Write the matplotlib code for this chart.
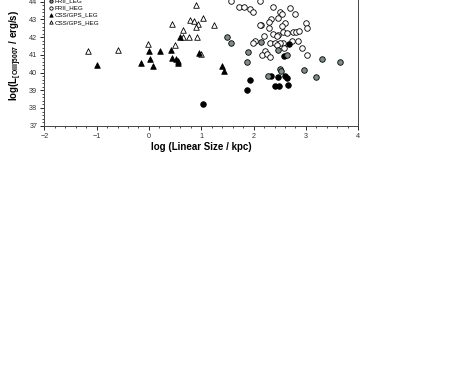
import numpy as np
import matplotlib
matplotlib.use("Agg")
import matplotlib.pyplot as plt
from matplotlib.ticker import MultipleLocator

plt.rcParams["font.family"] = ["Liberation Sans", "DejaVu Sans"]

# FRI (black filled circles)
fri_x = [2.68, 2.59, 1.93, 1.87, 2.33, 2.46, 2.60, 2.64, 2.41, 2.49, 2.66, 1.03]
fri_y = [41.62, 40.92, 39.58, 39.02, 39.81, 39.73, 39.81, 39.71, 39.24, 39.22, 39.30, 38.23]

# FRII LEG (grey filled circles)
frii_leg_x = [1.50, 1.56, 1.90, 1.87, 2.15, 2.47, 2.64, 2.28, 2.50, 2.52, 2.97, 3.19, 3.30, 3.66]
frii_leg_y = [42.03, 41.66, 41.16, 40.60, 41.75, 41.26, 40.99, 39.81, 40.20, 40.09, 40.13, 39.75, 40.75, 40.58]

# FRII HEG (open circles)
frii_heg_x = [2.13, 1.56, 1.73, 1.82, 1.93, 1.98, 2.38, 2.70, 2.50, 2.54, 2.79,
              2.33, 2.30, 2.47, 2.61, 2.55, 3.00, 3.03, 2.14, 2.29, 2.57, 2.64,
              2.75, 2.82, 2.86, 2.38, 2.47, 2.19, 2.45, 2.03, 1.98, 2.31, 2.40,
              2.57, 2.74, 2.85, 2.92, 2.22, 2.17, 2.25, 2.31, 3.03, 2.50, 2.44,
              2.59, 2.12]
frii_heg_y = [44.05, 44.05, 43.69, 43.72, 43.59, 43.42, 43.72, 43.67, 43.41, 43.31, 43.31,
              43.01, 42.86, 43.07, 42.82, 42.63, 42.82, 42.54, 42.69, 42.54, 42.31, 42.25,
              42.28, 42.28, 42.35, 42.16, 42.14, 42.08, 42.08, 41.79, 41.66, 41.69, 41.66,
              41.69, 41.79, 41.80, 41.39, 41.22, 41.00, 41.03, 40.86, 40.98, 41.66, 41.58,
              41.37, 42.69]

# CSS/GPS LEG (filled triangles)
css_leg_x = [-1.00, -0.15, 0.00, 0.02, 0.08, 0.21, 0.42, 0.45, 0.52, 0.55, 0.56,
             0.96, 0.60, 1.40, 1.43]
css_leg_y = [40.41, 40.54, 41.20, 40.74, 40.37, 41.24, 41.29, 40.84, 40.75, 40.64, 40.56,
             41.09, 42.00, 40.35, 40.07]

# CSS/GPS HEG (open triangles)
css_heg_x = [0.89, 1.03, 0.45, 0.78, 0.87, 0.93, 0.90, 1.24, 0.65, 0.65, 0.77,
             0.91, -0.01, 0.49, 0.99, -1.16, -0.60]
css_heg_y = [43.80, 43.10, 42.75, 42.97, 42.93, 42.73, 42.60, 42.70, 42.40, 42.00, 42.00,
             42.00, 41.64, 41.58, 41.05, 41.20, 41.30]

fig = plt.figure(figsize=(4.63, 3.82), dpi=100)
ax = fig.add_axes([0.0957, 0.671, 0.678, 0.3707])

ms = 16
ax.scatter(fri_x, fri_y, s=ms, marker="o", facecolor="black", edgecolor="black",
           linewidth=0.6, label="FRI", zorder=3)
ax.scatter(frii_leg_x, frii_leg_y, s=ms, marker="o", facecolor="#7d8d89", edgecolor="black",
           linewidth=0.6, label="FRII_LEG", zorder=3)
ax.scatter(frii_heg_x, frii_heg_y, s=ms, marker="o", facecolor="white", edgecolor="black",
           linewidth=0.6, label="FRII_HEG", zorder=2)
ax.scatter(css_leg_x, css_leg_y, s=ms, marker="^", facecolor="black", edgecolor="black",
           linewidth=0.6, label="CSS/GPS_LEG", zorder=3)
ax.scatter(css_heg_x, css_heg_y, s=ms, marker="^", facecolor="white", edgecolor="black",
           linewidth=0.6, label="CSS/GPS_HEG", zorder=2)

ax.set_xlim(-2, 4)
ax.set_ylim(37, 45)
ax.xaxis.set_major_locator(MultipleLocator(1))
ax.xaxis.set_minor_locator(MultipleLocator(0.2))
ax.yaxis.set_major_locator(MultipleLocator(1))
ax.yaxis.set_minor_locator(MultipleLocator(0.2))
ax.tick_params(which="major", length=3, width=0.6, labelsize=5.2, pad=2,
               labelcolor="#333333", direction="out")
ax.tick_params(which="minor", length=1.5, width=0.5, direction="out")
ax.tick_params(top=False, right=False)
for s in ax.spines.values():
    s.set_linewidth(0.7)
    s.set_color("#444444")

ax.set_xlabel("log (Linear Size / kpc)", fontsize=7, fontweight="bold", labelpad=2)
ax.set_ylabel(r"log(L$_{\mathregular{[OIII]5007}}$ / erg/s)", fontsize=7,
              fontweight="bold", labelpad=4)

leg = ax.legend(loc="upper left", bbox_to_anchor=(0.0, 0.985), frameon=False,
                fontsize=4.5, handlelength=0.6, handletextpad=0.3,
                labelspacing=0.3, borderpad=0.2, markerscale=0.6)

fig.savefig("out.png", dpi=100)
